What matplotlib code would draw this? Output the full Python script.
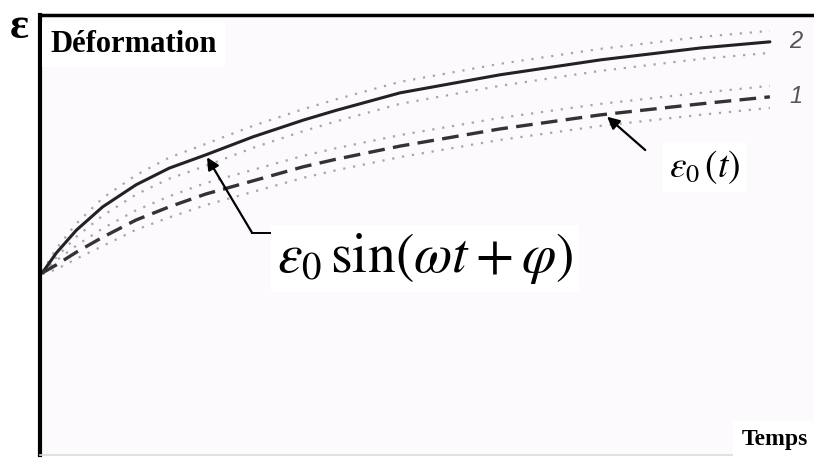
import numpy as np
import matplotlib
matplotlib.use("Agg")
import matplotlib.pyplot as plt

plt.rcParams['font.family'] = ['Liberation Serif', 'DejaVu Serif']
plt.rcParams['mathtext.fontset'] = 'stix'

# ── DATA (arbitrary units) ───────────────────────────────────────────────
t = [0.03, 0.21, 0.47, 0.81, 1.24, 1.67, 2.14, 2.75, 3.40, 3.82,
     4.65, 5.94, 7.24, 8.53, 9.43]

# curve 2 : eps0 sin(wt + phi) envelope (solid) and its dotted band
curve2    = [4.14, 4.59, 5.11, 5.64, 6.14, 6.52, 6.82, 7.23, 7.61, 7.83,
             8.23, 8.64, 8.98, 9.25, 9.39]
curve2_hi = [4.17, 4.69, 5.26, 5.84, 6.36, 6.76, 7.07, 7.48, 7.86, 8.08,
             8.48, 8.89, 9.23, 9.50, 9.64]
curve2_lo = [4.11, 4.49, 4.96, 5.44, 5.92, 6.28, 6.57, 6.98, 7.36, 7.58,
             7.98, 8.39, 8.73, 9.00, 9.14]

# curve 1 : eps0(t) (dashed) and its dotted band
curve1    = [4.14, 4.32, 4.61, 4.95, 5.34, 5.64, 5.93, 6.23, 6.55, 6.72,
             7.02, 7.41, 7.73, 7.98, 8.14]
curve1_hi = [4.17, 4.42, 4.76, 5.15, 5.56, 5.88, 6.18, 6.48, 6.80, 6.97,
             7.27, 7.66, 7.98, 8.23, 8.39]
curve1_lo = [4.11, 4.22, 4.46, 4.75, 5.12, 5.40, 5.68, 5.98, 6.30, 6.47,
             6.77, 7.16, 7.48, 7.73, 7.89]

W, H = 814, 458
fig = plt.figure(figsize=(W / 100, H / 100), dpi=100, facecolor='white')
ax = fig.add_axes([40 / W, 3 / H, 774 / W, 440 / H])
ax.set_facecolor('#fcfafc')
ax.set_xlim(0, 10)
ax.set_ylim(0, 10)
ax.set_xticks([])
ax.set_yticks([])
ax.spines['right'].set_visible(False)
ax.spines['left'].set_linewidth(3)
ax.spines['left'].set_color('black')
ax.spines['top'].set_linewidth(2.5)
ax.spines['top'].set_color('black')
ax.spines['bottom'].set_linewidth(1.2)
ax.spines['bottom'].set_color('#dedade')

# dotted bands
dot = dict(color='#a8a4a8', lw=1.6, ls=(0, (1, 3.5)))
for band in (curve2_hi, curve2_lo, curve1_hi, curve1_lo):
    ax.plot(t, band, **dot)

# main curves
ax.plot(t, curve2, color='#222222', lw=2.2, solid_capstyle='round')
ax.plot(t, curve1, color='#333333', lw=2.4, ls=(0, (5, 2.5)))

# curve numbers
ax.annotate('2', (t[-1], curve2[-1]), xytext=(14, 0), textcoords='offset points',
            fontsize=17, style='italic', color='#555555', va='center',
            family=['Liberation Sans'])
ax.annotate('1', (t[-1], curve1[-1]), xytext=(14, 0), textcoords='offset points',
            fontsize=17, style='italic', color='#555555', va='center',
            family=['Liberation Sans'])

# arrows with formula labels
ax.annotate('', xy=(t[6], curve2[6]), xytext=(2.74, 5.05),
            arrowprops=dict(arrowstyle='-|>', color='black', lw=1.6,
                            mutation_scale=18, shrinkA=0, shrinkB=2))
ax.plot([2.74, 3.06], [5.05, 5.05], color='black', lw=1.4)
ax.annotate('', xy=(7.30, 7.73), xytext=(7.82, 6.93),
            arrowprops=dict(arrowstyle='-|>', color='black', lw=1.6,
                            mutation_scale=18, shrinkA=0, shrinkB=2))

box = dict(facecolor='white', edgecolor='none', pad=4)
fig.text(277 / W, 1 - 272 / H, r'$\varepsilon_0\,\sin(\omega t+\varphi)$',
         fontsize=40, ha='left', va='baseline', bbox=box)
fig.text(669 / W, 1 - 177 / H, r'$\varepsilon_{0}\,(t)$',
         fontsize=27, ha='left', va='baseline', bbox=box)

# axis titles
fig.text(10 / W, 1 - 27 / H, 'ε', fontsize=32, fontweight='bold',
         ha='left', va='center')
fig.text(50 / W, 1 - 52 / H, 'Déformation', fontsize=22, fontweight='bold',
         ha='left', va='baseline', bbox=dict(facecolor='white', edgecolor='none', pad=6))
fig.text(808 / W, 1 - 445 / H, 'Temps', fontsize=17, fontweight='bold',
         ha='right', va='baseline', bbox=dict(facecolor='white', edgecolor='none', pad=6))

fig.savefig('out.png', dpi=100, facecolor='white')
